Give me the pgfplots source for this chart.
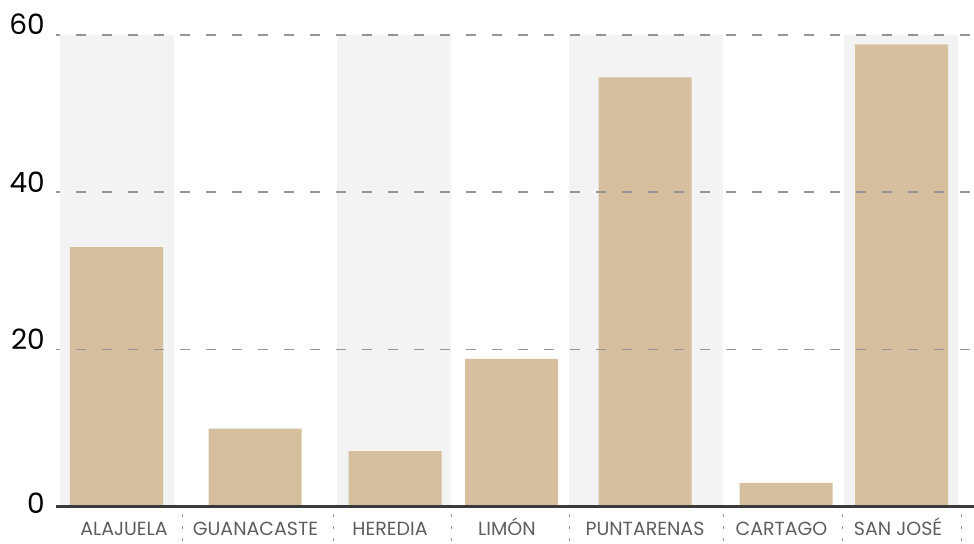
\documentclass[border=0pt]{standalone}
\usepackage{pgfplots}
\pgfplotsset{compat=1.18}
\usepackage{fontspec}
\setmainfont{Poppins}
\definecolor{barc}{HTML}{D6BF9E}
\definecolor{bandc}{HTML}{F3F3F3}
\definecolor{gridc}{HTML}{959595}
\definecolor{axl}{HTML}{3A3A3A}
\definecolor{lab}{HTML}{5E5E5E}
\begin{document}
\begin{tikzpicture}
\useasboundingbox (-56bp,-37.5bp) rectangle (918bp,506.5bp);
\begin{axis}[
  at={(0,0)}, anchor=south west,
  scale only axis, width=918bp, height=471.5bp,
  xmin=56, xmax=974, ymin=0, ymax=60,
  axis lines*=left,
  y axis line style={draw=none},
  x axis line style={draw=axl, line width=2.6bp},
  axis on top,
  major tick length=0pt,
  /pgf/number format/assume math mode=true,
  ytick={20,40,60},
  ymajorgrids,
  grid style={draw=gridc, line width=1.4bp, dash pattern=on 10bp off 16bp, dash phase=6bp},
  yticklabel style={anchor=base east, inner sep=0pt, xshift=-11bp, font=\fontsize{28bp}{30bp}\selectfont, text=black},
  extra y ticks={0},
  extra y tick style={ymajorgrids=false, yticklabel style={anchor=base east, yshift=-7bp}},
  xtick={124,255.5,390,507,645,781.5,898},
  xticklabels={ALAJUELA,GUANACASTE,HEREDIA,LIMÓN,PUNTARENAS,CARTAGO,SAN JOSÉ},
  xticklabel style={anchor=base, inner sep=0pt, yshift=-28.5bp, font=\fontsize{19bp}{20bp}\selectfont, text=lab},
  extra x ticks={182,333,451,569,723,842,961},
  extra x tick labels={},
  extra x tick style={major tick length=38bp, tick align=outside,
     tick style={draw=gridc, line width=1bp, dash pattern=on 3bp off 9bp, dash phase=8bp}},
]
% background bands
\addplot[ybar, bar shift=0pt, bar width=114, fill=bandc, draw=none, forget plot] coordinates {(117,60)};
\addplot[ybar, bar shift=0pt, bar width=114, fill=bandc, draw=none, forget plot] coordinates {(394,60)};
\addplot[ybar, bar shift=0pt, bar width=154, fill=bandc, draw=none, forget plot] coordinates {(646,60)};
\addplot[ybar, bar shift=0pt, bar width=114, fill=bandc, draw=none, forget plot] coordinates {(901,60)};
% bars
\addplot[ybar, bar shift=0pt, bar width=93, fill=barc, draw=none] coordinates {
  (116.5,33.0) (255,9.9) (395,7.05) (511.5,18.8) (645,54.6) (786,3.0) (901.5,58.8)};
\end{axis}
\end{tikzpicture}
\end{document}
